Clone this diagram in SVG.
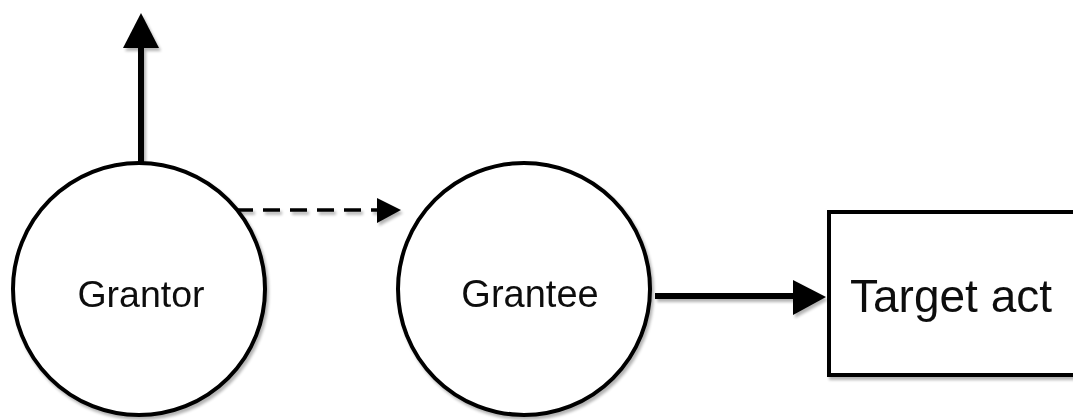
<svg xmlns="http://www.w3.org/2000/svg" width="1073" height="420" viewBox="0 0 1073 420">
  <style>
    .shape { fill: #fff; stroke: #000; stroke-width: 4; }
    .label { font-family: "Liberation Sans", Arial, sans-serif; fill: #111; text-anchor: middle; }
    .edge { stroke: #000; fill: none; }
    .head { fill: #000; }
  </style>
  <defs>
    <filter id="shadow" x="-10%" y="-10%" width="120%" height="120%">
      <feGaussianBlur in="SourceAlpha" stdDeviation="1.6"/>
      <feOffset dx="2" dy="3" result="blur"/>
      <feComponentTransfer><feFuncA type="linear" slope="0.3"/></feComponentTransfer>
      <feMerge><feMergeNode/><feMergeNode in="SourceGraphic"/></feMerge>
    </filter>
  </defs>
  <rect width="1073" height="420" fill="#fff"/>

  <g id="connectors" filter="url(#shadow)">
    <!-- upward arrow out of Grantor -->
    <line class="edge" x1="141" y1="164" x2="141" y2="46" stroke-width="6"/>
    <polygon class="head" points="141,13 123,48 159,48"/>
    <!-- dashed arrow Grantor to Grantee -->
    <line class="edge" x1="236" y1="210" x2="378" y2="210" stroke-width="3.5" stroke-dasharray="17 10"/>
    <polygon class="head" points="401,210 377,198 377,223"/>
    <!-- Grantee to Target act -->
    <line class="edge" x1="655" y1="296" x2="795" y2="296" stroke-width="6"/>
    <polygon class="head" points="826,297 793,280 793,315"/>
  </g>

  <g id="grantor" filter="url(#shadow)">
    <circle class="shape" cx="139" cy="289" r="126"/>
    <text class="label" x="141" y="307" font-size="37.5">Grantor</text>
  </g>

  <g id="grantee" filter="url(#shadow)">
    <circle class="shape" cx="524" cy="289" r="126"/>
    <text class="label" x="530" y="307" font-size="38">Grantee</text>
  </g>

  <g id="target-act" filter="url(#shadow)">
    <rect class="shape" x="829" y="212" width="260" height="163" stroke-width="4.5"/>
    <text class="label" x="951" y="312" font-size="46">Target act</text>
  </g>
</svg>
